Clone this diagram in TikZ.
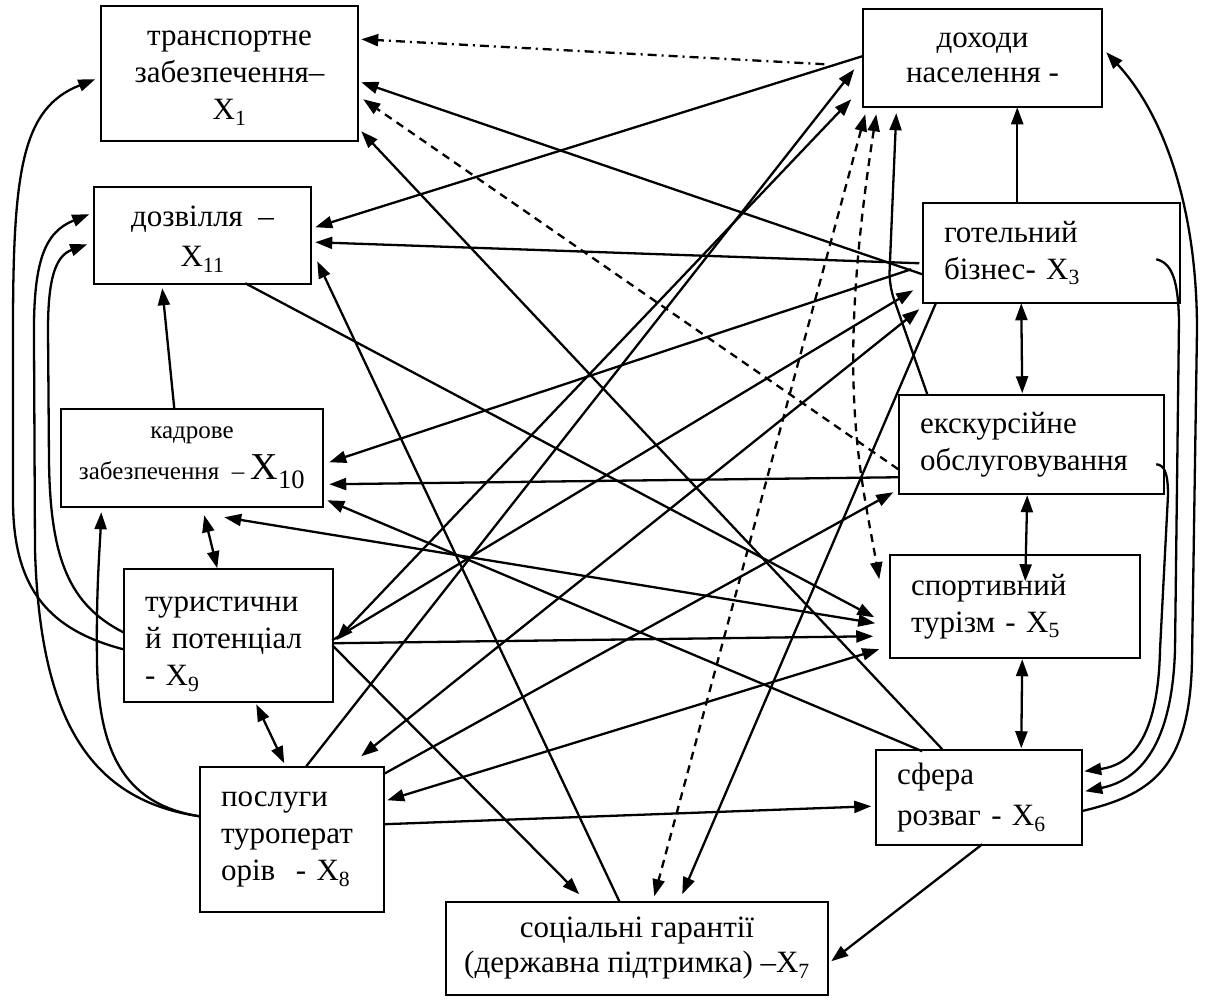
\documentclass[tikz,border=0pt]{standalone}
\usepackage{fontspec}
\setmainfont{Liberation Serif}
\usetikzlibrary{arrows.meta,calc}
\begin{document}
\begin{tikzpicture}[x=1pt,y=-1pt,
  box/.style={draw, line width=1.5pt, inner sep=0pt, font=\fontsize{31}{37}\selectfont},
  cbox/.style={box, align=center},
  lbox/.style={box, align=left, inner xsep=21pt},
  con/.style={line width=2.3pt},
  ar/.style={con, -{Triangle[length=17pt,width=12pt]}},
  dar/.style={con, {Triangle[length=17pt,width=12pt]}-{Triangle[length=17pt,width=12pt]}},
  dsh/.style={dash pattern=on 8pt off 6pt},
  ddot/.style={dash pattern=on 9pt off 5pt on 2pt off 5pt},
]
\useasboundingbox (0,0) rectangle (1205,1007);

% boxes
\node[cbox, minimum width=257pt, minimum height=135pt] (x1) at (229.5,73.5) {\rule{0pt}{24pt}транспортне\\забезпечення–\\X\textsubscript{1}};
\node[cbox, minimum width=239pt, minimum height=98pt, font=\fontsize{31}{35}\selectfont] (d) at (982.5,58) {доходи\\населення -};
\node[cbox, minimum width=217pt, minimum height=97pt, font=\fontsize{31}{40}\selectfont] (x11) at (202.5,235.5) {\rule{0pt}{28pt}дозвілля~~–\\X\textsubscript{11}};
\node[lbox, minimum width=257pt, text width=215pt, minimum height=100pt] (x3) at (1051.5,253) {готельний\\\mbox{бізнес- X\textsubscript{3}}};
\node[lbox, minimum width=265pt, text width=223pt, minimum height=99pt] (e) at (1031.5,444.5) {екскурсійне\\обслуговування};
\node[cbox, minimum width=262pt, minimum height=98pt, font=\fontsize{25}{41}\selectfont] (x10) at (192,458) {кадрове\\забезпечення~~–~{\fontsize{38}{41}\selectfont X\textsubscript{10}}};
\node[lbox, minimum width=250pt, text width=208pt, minimum height=103pt] (x5) at (1015,606.5) {спортивний\\\mbox{турізм - X\textsubscript{5}}};
\node[lbox, minimum width=209pt, text width=167pt, minimum height=133pt] (x9) at (228.5,635.5) {\rule{0pt}{32pt}туристични\\\mbox{й потенціал}\\\mbox{- X\textsubscript{9}}};
\node[lbox, minimum width=206pt, text width=164pt, minimum height=95pt, font=\fontsize{31}{41}\selectfont] (x6) at (979,797.5) {сфера\\\mbox{розваг - X\textsubscript{6}}};
\node[lbox, minimum width=184pt, text width=142pt, minimum height=145pt] (x8) at (292,839.5) {послуги\\туроперат\\\mbox{орів~~- X\textsubscript{8}}};
\node[cbox, minimum width=382pt, minimum height=93pt, font=\fontsize{31}{35}\selectfont] (x7) at (637,948.5) {соціальні гарантії\\(державна підтримка) –X\textsubscript{7}};

% connectors to X1
\draw[ar, ddot, shorten <=38pt] ($(d.north west)+(0,58)$) -- ($(x1.north west)+(261,34)$);
\draw[ar] ($(x3.north west)+(0,72)$) -- ($(x1.north west)+(261,77)$);
\draw[ar, dsh] ($(e.north west)+(0,75)$) -- ($(x1.north west)+(263,94)$);
\draw[ar] ($(x6.north west)+(67,0)$) -- ($(x1.north west)+(261,126)$);
\draw[ar] ($(x9.north west)+(0,81)$) .. controls (50,630) and (13,590) .. (13,500) -- (13,330) .. controls (13,170) and (22,108) .. ($(x1.north west)+(-5,74)$);

% connectors to X11
\draw[ar] ($(d.north west)+(0,48)$) -- ($(x11.north west)+(222,41)$);
\draw[ar] ($(x3.north west)+(-3,61)$) -- ($(x11.north west)+(222,56)$);
\draw[ar] ($(x7.north west)+(174,0)$) -- ($(x11.north west)+(224,75)$);
\draw[ar] ($(x10.north west)+(114,0)$) -- ($(x11.north west)+(69,102)$);
\draw[ar] ($(x8.north west)+(0,50)$) .. controls (90,800) and (40,720) .. (35,550) -- (34,340) .. controls (33,260) and (45,232) .. ($(x11.north west)+(-4,28)$);
\draw[ar] ($(x9.north west)+(0,64)$) .. controls (70,605) and (50,560) .. (49,460) -- (48,330) .. controls (48,280) and (55,256) .. ($(x11.north west)+(-6,58)$);

% connectors to X10
\draw[ar] ($(x3.north west)+(-11,67)$) -- ($(x10.north west)+(269,54)$);
\draw[ar] ($(e.north west)+(0,83)$) -- ($(x10.north west)+(269,76)$);
\draw[ar] ($(x6.north west)+(47,2)$) -- ($(x10.north west)+(267,92)$);
\draw[dar] ($(x10.north west)+(164,109)$) -- ($(x5.north west)+(-14,69)$);
\draw[ar] ($(x8.north west)+(0,50)$) .. controls (130,805) and (98,760) .. (97,660) .. controls (96,590) and (100,545) .. ($(x10.north west)+(41,104)$);
\draw[dar] ($(x10.north west)+(144,107)$) -- ($(x9.north west)+(94,0)$);

% X9 and X8
\draw[dar] ($(x9.north west)+(133,136)$) -- ($(x8.north west)+(85,-3)$);
\draw[dar] ($(d.north west)+(-11,91)$) -- ($(x9.north west)+(213,72)$);
\draw[ar] ($(x8.north west)+(107,0)$) -- ($(d.north west)+(-8,61)$);
\draw[ar] ($(x9.north west)+(209,72)$) -- ($(x3.north west)+(-9,88)$);
\draw[dar] ($(x3.north west)+(-3,107)$) -- ($(x8.north west)+(162,-10)$);
\draw[ar] ($(x9.north west)+(209,75)$) -- ($(x5.north west)+(-16,82)$);
\draw[ar] ($(x9.north west)+(209,77)$) -- ($(x7.north west)+(134,-7)$);
\draw[ar] ($(x11.north west)+(152,97)$) -- ($(x5.north west)+(-15,63)$);
\draw[ar] ($(x8.north west)+(184,8)$) -- ($(e.north west)+(-5,98)$);
\draw[dar] ($(x8.north west)+(188,34)$) -- ($(x5.north west)+(-10,95)$);
\draw[ar] ($(x8.north west)+(184,58)$) -- ($(x6.north west)+(-4,57)$);

% right part
\draw[ar] ($(x3.north west)+(14,100)$) -- ($(x7.north west)+(237,-7)$);
\draw[dar, dsh] ($(d.north west)+(3,106)$) -- ($(x7.north west)+(209,-5)$);
\draw[dar, dsh] ($(d.north west)+(14,106)$) .. controls (835,380) and (860,470) .. ($(x5.north west)+(-10,25)$);
\draw[ar, rounded corners=14pt] ($(e.north west)+(29,0)$) -- (889,285) -- ($(d.north west)+(34,105)$);
\draw[ar] ($(x3.north west)+(95,0)$) -- ($(d.north west)+(155,99)$);
\draw[dar] ($(x3.north west)+(99,101)$) -- ($(e.north west)+(124,-1)$);
\draw[dar] ($(e.north west)+(129,101)$) -- ($(x5.north west)+(136,27)$);
\draw[dar] ($(x5.north west)+(133,105)$) -- ($(x6.north west)+(146,-1)$);
\draw[ar] ($(x6.north west)+(107,95)$) -- ($(x7.north west)+(386,60)$);

% right curves
\draw[ar] ($(x6.north west)+(206,62)$) .. controls (1150,795) and (1190,770) .. (1192,660) -- (1197,330) .. controls (1197,200) and (1160,110) .. ($(d.north west)+(244,44)$);
\draw[ar] ($(x3.north west)+(234,57)$) .. controls (1172,263) and (1178,280) .. (1179,320) -- (1175,650) .. controls (1172,745) and (1140,780) .. ($(x6.north west)+(210,42)$);
\draw[ar] ($(e.north west)+(258,70)$) .. controls (1164,465) and (1168,472) .. (1168,495) -- (1160,650) .. controls (1158,740) and (1130,765) .. ($(x6.north west)+(209,22)$);
\end{tikzpicture}
\end{document}
